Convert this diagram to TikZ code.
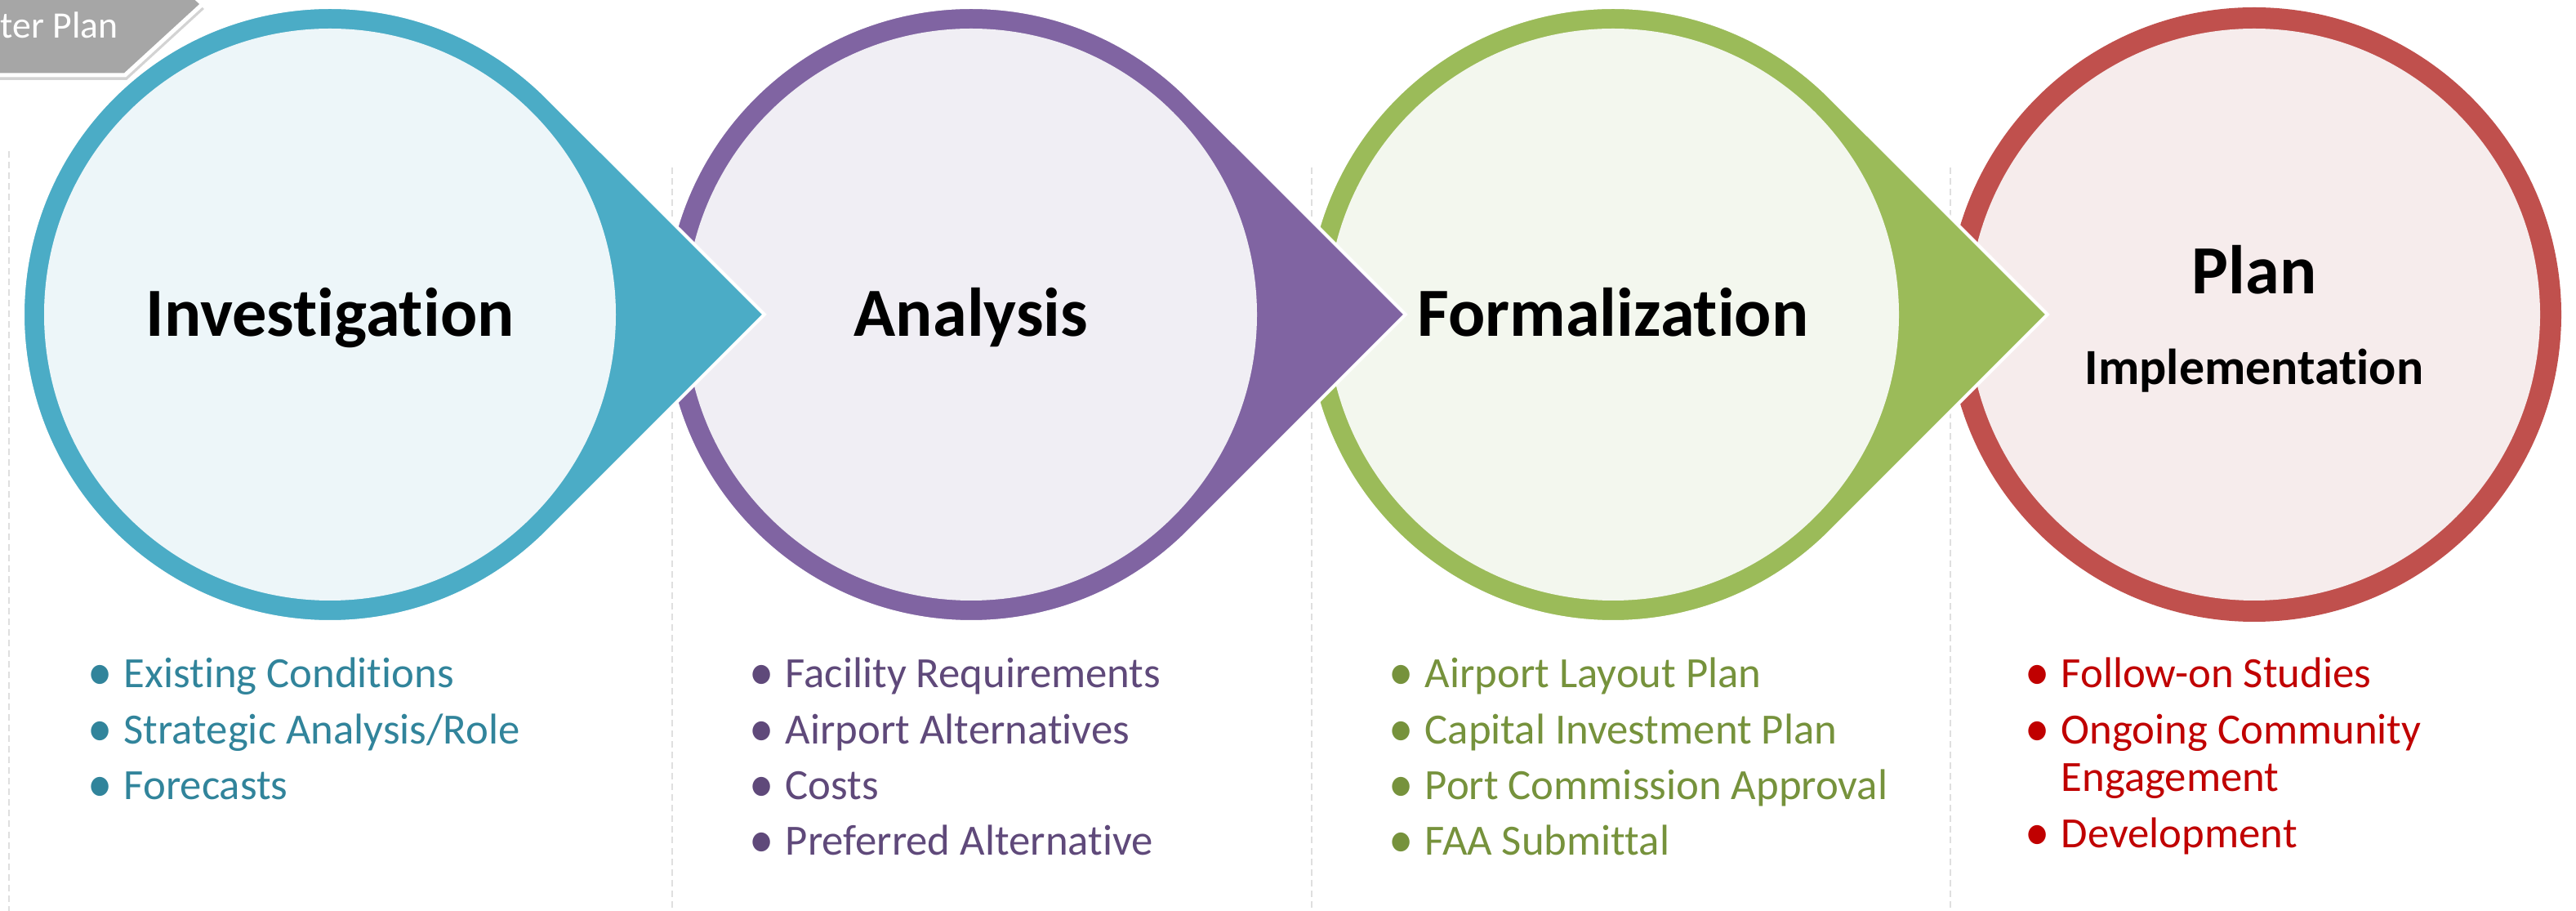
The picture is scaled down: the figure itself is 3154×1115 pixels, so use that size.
\documentclass[tikz,border=0pt]{standalone}
\usepackage{fontspec}
\setmainfont{Carlito}[Ligatures={NoCommon}]
\usepackage{xcolor}
\usepackage{graphicx}
\usepackage{tikz}
\usetikzlibrary{positioning, calc, shadows}

\definecolor{invring}{HTML}{4BACC6}
\definecolor{invfill}{HTML}{EDF6F9}
\definecolor{invtext}{HTML}{31849B}
\definecolor{anaring}{HTML}{8064A2}
\definecolor{anafill}{HTML}{F0EEF4}
\definecolor{anatext}{HTML}{5F497A}
\definecolor{forring}{HTML}{9BBB59}
\definecolor{forfill}{HTML}{F3F7EE}
\definecolor{fortext}{HTML}{76923C}
\definecolor{impring}{HTML}{C0504D}
\definecolor{impfill}{HTML}{F6ECEC}
\definecolor{imptext}{HTML}{C00000}
\definecolor{tabgray}{HTML}{A6A6A6}

% teardrop: centre, ring colour, inner colour
\newcommand{\stagedrop}[3]{
  \filldraw[#2, draw=white, line width=0.04cm] (#1) ++(45:376)
    arc[start angle=45, end angle=315, radius=376] -- ++(266,266) -- cycle;
  \fill[#3] (#1) circle[radius=350];
}
\newcommand{\bul}{\makebox[0.44cm][l]{\raisebox{-0.03cm}{\scalebox{1.15}[1.25]{\textbullet}}}}

\begin{document}
\begin{tikzpicture}[x=0.01cm, y=0.01cm,
      title/.style = {font=\bfseries\fontsize{24}{28}\selectfont,
        inner sep=0, anchor=base},
      subtitle/.style = {font=\bfseries\fontsize{17.6}{21}\selectfont,
        inner sep=0, anchor=base},
      item/.style = {font=\fontsize{15}{18}\selectfont,
        inner sep=0, anchor=base west},
      sep/.style = {gray!25, line width=0.02cm,
        dash pattern=on 0.08cm off 0.05cm},
      tabtext/.style = {white, font=\fontsize{13}{15}\selectfont,
        inner sep=0, anchor=base west}]
  \useasboundingbox (0,0) rectangle (3154,1115);

  % column separators
  \draw[sep] (11,930) -- (11,0);
  \draw[sep] (823,910) -- (823,0);
  \draw[sep] (1606,910) -- (1606,0);
  \draw[sep] (2388,910) -- (2388,0);

  % stages
  \coordinate (c1) at (404,730);
  \coordinate (c2) at (1189,730);
  \coordinate (c3) at (1975,730);
  \coordinate (c4) at (2760,730);

  \fill[impring] (c4) circle[radius=376];
  \fill[impfill] (c4) circle[radius=350];
  \stagedrop{c3}{forring}{forfill}
  \stagedrop{c2}{anaring}{anafill}
  \stagedrop{c1}{invring}{invfill}

  % tab
  \filldraw[tabgray, draw=white, line width=0.05cm,
    drop shadow={shadow xshift=0.02cm, shadow yshift=-0.06cm, opacity=0.35}]
    (-20,1023) -- (153,1023) -- (248,1110) -- (153,1197) -- (-20,1197) -- cycle;
  \node[tabtext] (tab) at (0,1068) {ter Plan};

  % titles
  \node[title] (inv) at (404,703) {Investigation};
  \node[title] (ana) at (1189,703) {Analysis};
  \node[title] (for) at (1975,703) {Formalization};
  \node[title] (plan) at (2760,755) {Plan};
  \node[subtitle] (impl) at (2760,644) {Implementation};

  % lists
  \node[item, invtext] (inv1) at (107,273) {\bul Existing Conditions};
  \node[item, invtext, below=0.68cm of inv1.base west, anchor=base west] (inv2) {\bul Strategic Analysis/Role};
  \node[item, invtext, below=0.68cm of inv2.base west, anchor=base west] (inv3) {\bul Forecasts};

  \node[item, anatext] (ana1) at (917,273) {\bul Facility Requirements};
  \node[item, anatext, below=0.68cm of ana1.base west, anchor=base west] (ana2) {\bul Airport Alternatives};
  \node[item, anatext, below=0.68cm of ana2.base west, anchor=base west] (ana3) {\bul Costs};
  \node[item, anatext, below=0.68cm of ana3.base west, anchor=base west] (ana4) {\bul Preferred Alternative};

  \node[item, fortext] (for1) at (1700,273) {\bul Airport Layout Plan};
  \node[item, fortext, below=0.68cm of for1.base west, anchor=base west] (for2) {\bul Capital Investment Plan};
  \node[item, fortext, below=0.68cm of for2.base west, anchor=base west] (for3) {\bul Port Commission Approval};
  \node[item, fortext, below=0.68cm of for3.base west, anchor=base west] (for4) {\bul FAA Submittal};

  \node[item, imptext] (imp1) at (2479,273) {\bul Follow-on Studies};
  \node[item, imptext, below=0.68cm of imp1.base west, anchor=base west] (imp2) {\bul Ongoing Community};
  \node[item, imptext, below=0.58cm of imp2.base west, anchor=base west] (imp2b) {\hspace*{0.44cm}Engagement};
  \node[item, imptext, below=0.69cm of imp2b.base west, anchor=base west] (imp3) {\bul Development};
\end{tikzpicture}
\end{document}
